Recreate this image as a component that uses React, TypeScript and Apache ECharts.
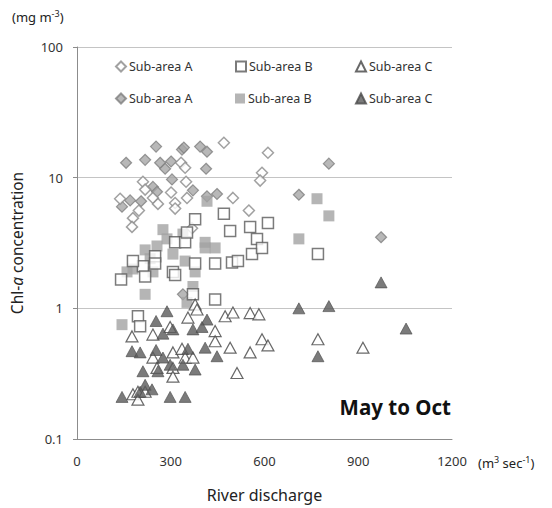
import React, { useEffect, useRef } from "react";
import * as echarts from "echarts";

// [river discharge (m3/s), Chl-a (mg/m3)]
const subAreaAOpen: number[][] = [
  [470, 18.5], [611, 15.5], [592, 10.9], [586, 9.5], [333, 13.0], [349, 9.3], [301, 7.7],
  [352, 7.0], [314, 6.4], [314, 5.8], [499, 7.0], [550, 5.6], [211, 9.3], [218, 8.1],
  [243, 7.0], [259, 6.3], [138, 6.9], [198, 5.6], [179, 4.9], [176, 4.2], [368, 4.1],
  [346, 11.9],
];
const subAreaAFilled: number[][] = [
  [157, 13.0], [218, 13.7], [253, 17.3], [266, 13.0], [282, 11.7], [301, 13.3], [336, 16.4],
  [342, 17.0], [394, 17.3], [416, 15.8], [413, 11.7], [304, 9.7], [371, 8.0], [416, 7.2],
  [448, 7.5], [170, 6.7], [144, 6.0], [205, 6.6], [243, 8.5], [256, 7.8], [806, 12.8],
  [710, 7.4], [973, 3.5], [339, 1.28],
];
const subAreaBOpen: number[][] = [
  [378, 4.8], [470, 5.3], [554, 4.2], [490, 3.9], [576, 3.4], [314, 3.2], [346, 3.2],
  [352, 3.8], [250, 2.5], [211, 2.1], [179, 2.3], [218, 1.75], [250, 2.2], [307, 1.9],
  [314, 1.8], [378, 2.2], [442, 2.2], [496, 2.24], [515, 2.3], [560, 2.6], [371, 1.28],
  [442, 1.17], [195, 0.87], [202, 0.73], [611, 4.5], [592, 2.9], [771, 2.6], [141, 1.66],
];
const subAreaBFilled: number[][] = [
  [275, 4.0], [288, 3.4], [256, 3.0], [218, 2.8], [339, 3.7], [410, 3.2], [410, 2.9],
  [442, 2.9], [307, 2.6], [346, 2.3], [378, 1.9], [243, 1.9], [179, 2.0], [234, 2.4],
  [218, 1.28], [371, 1.47], [352, 1.11], [416, 6.6], [768, 6.9], [806, 5.1], [710, 3.4],
  [144, 0.75], [160, 1.9],
];
const subAreaCOpen: number[][] = [
  [355, 0.85], [378, 1.07], [384, 0.98], [474, 0.87], [499, 0.93], [554, 0.92], [582, 0.9],
  [243, 0.63], [298, 0.72], [442, 0.67], [442, 0.56], [490, 0.5], [554, 0.46], [512, 0.32],
  [176, 0.61], [243, 0.42], [307, 0.46], [336, 0.49], [346, 0.42], [371, 0.42], [256, 0.35],
  [307, 0.35], [307, 0.3], [179, 0.22], [195, 0.23], [195, 0.2], [218, 0.23], [592, 0.58],
  [611, 0.52], [771, 0.58], [915, 0.5],
];
const subAreaCFilled: number[][] = [
  [288, 0.95], [253, 0.8], [416, 0.82], [275, 0.64], [307, 0.69], [371, 0.69], [400, 0.72],
  [176, 0.47], [202, 0.46], [253, 0.48], [275, 0.42], [298, 0.37], [339, 0.37], [355, 0.49],
  [410, 0.5], [448, 0.43], [211, 0.33], [259, 0.33], [378, 0.34], [218, 0.26], [240, 0.24],
  [202, 0.23], [298, 0.21], [346, 0.21], [144, 0.21], [710, 1.0], [806, 1.04], [973, 1.58],
  [1053, 0.7], [771, 0.43],
];

const xTicks = [0, 300, 600, 900, 1200];
const yRange = [0.1, 100];
const legendLabel = "Sub-area";

const FONT = "'Noto Sans', 'Open Sans', sans-serif";

export default function App() {
  const ref = useRef<HTMLDivElement>(null);
  useEffect(() => {
    if (!ref.current) return;
    const chart = echarts.init(ref.current, null, { renderer: "svg", width: 552, height: 508 });

    const seriesDefs = [
      { id: "AF", text: `${legendLabel} A`, data: subAreaAFilled, symbol: "diamond", size: 11,
        style: { color: "#a6a6a6", borderColor: "#808080", borderWidth: 1.2 } },
      { id: "AO", text: `${legendLabel} A`, data: subAreaAOpen, symbol: "diamond", size: 11,
        style: { color: "#ffffff", borderColor: "#8a8a8a", borderWidth: 1.5 } },
      { id: "BF", text: `${legendLabel} B`, data: subAreaBFilled, symbol: "rect", size: 11,
        style: { color: "#a3a3a3", borderWidth: 0 } },
      { id: "BO", text: `${legendLabel} B`, data: subAreaBOpen, symbol: "rect", size: 11,
        style: { color: "#ffffff", borderColor: "#5a5a5a", borderWidth: 1.5 } },
      { id: "CO", text: `${legendLabel} C`, data: subAreaCOpen, symbol: "triangle", size: [12, 11],
        style: { color: "#ffffff", borderColor: "#444444", borderWidth: 1.2 } },
      { id: "CF", text: `${legendLabel} C`, data: subAreaCFilled, symbol: "triangle", size: [12, 11],
        style: { color: "#5a5a5a", borderColor: "#4a4a4a", borderWidth: 0.8 } },
    ];
    const labelOf: Record<string, string> = {};
    seriesDefs.forEach((s) => (labelOf[s.id] = s.text));

    const legendPos: Record<string, [number, number]> = {
      AO: [115, 60], BO: [235, 60], CO: [355, 60],
      AF: [115, 92], BF: [235, 92], CF: [355, 92],
    };

    const legends = Object.keys(legendPos).map((id) => ({
      data: [id],
      left: legendPos[id][0],
      top: legendPos[id][1],
      itemWidth: 10,
      itemHeight: 10,
      itemGap: 4,
      padding: 0,
      selectedMode: false,
      formatter: (name: string) => labelOf[name],
      textStyle: { fontFamily: FONT, fontSize: 12.5, color: "#333", padding: [0, 0, 0, -2] },
    }));

    chart.setOption({
      animation: false,
      textStyle: { fontFamily: FONT },
      grid: { left: 77, top: 47, right: 100, bottom: 69, containLabel: false },
      legend: legends,
      xAxis: {
        type: "value",
        min: xTicks[0],
        max: xTicks[xTicks.length - 1],
        interval: 300,
        axisLine: { show: true, lineStyle: { color: "#8c8c8c", width: 1 } },
        axisTick: { show: false },
        splitLine: { show: false },
        axisLabel: {
          fontFamily: FONT, fontSize: 13, color: "#333", margin: 15,
          formatter: (v: number) => String(v),
        },
        name: "River discharge",
        nameLocation: "middle",
        nameGap: 48,
        nameTextStyle: { fontFamily: FONT, fontSize: 16, color: "#222" },
      },
      yAxis: {
        type: "log",
        logBase: 10,
        min: yRange[0],
        max: yRange[1],
        axisLine: { show: true, lineStyle: { color: "#8c8c8c", width: 1 } },
        axisTick: { show: true, length: 4, lineStyle: { color: "#8c8c8c" } },
        splitLine: { show: true, lineStyle: { color: "#c4c4c4", width: 1 } },
        axisLabel: { fontFamily: FONT, fontSize: 13, color: "#333", margin: 14 },
        name: "{n|Chl-}{i|a}{n| concentration}",
        nameLocation: "middle",
        nameGap: 52,
        nameRotate: 90,
        nameTextStyle: {
          fontFamily: FONT,
          fontSize: 15.5,
          color: "#222",
          rich: {
            n: { fontFamily: FONT, fontSize: 15.5, color: "#222" },
            i: { fontFamily: FONT, fontSize: 15.5, color: "#222", fontStyle: "italic" },
          },
        },
      },
      graphic: [
        {
          type: "text",
          left: 12,
          top: 9,
          style: {
            text: "(mg m{s|-3})",
            fontFamily: FONT,
            fontSize: 13,
            fill: "#222",
            rich: { s: { fontFamily: FONT, fontSize: 9, fill: "#222", padding: [0, 0, 6, 0] } },
          },
        },
        {
          type: "text",
          left: 478,
          top: 455,
          style: {
            text: "(m{s|3} sec{s|-1})",
            fontFamily: FONT,
            fontSize: 13,
            fill: "#222",
            rich: { s: { fontFamily: FONT, fontSize: 9, fill: "#222", padding: [0, 0, 6, 0] } },
          },
        },
        {
          type: "text",
          right: 101,
          top: 396,
          style: {
            text: "May to Oct",
            fontFamily: FONT,
            fontSize: 20.5,
            fontWeight: "bold",
            fill: "#111",
          },
        },
      ],
      series: seriesDefs.map((s) => ({
        id: s.id,
        name: s.id,
        type: "scatter",
        data: s.data,
        symbol: s.symbol,
        symbolSize: s.size,
        itemStyle: s.style,
        emphasis: { disabled: true },
      })),
    });
    return () => chart.dispose();
  }, []);
  return (
    <div
      ref={ref}
      style={{ position: "fixed", left: 0, top: 0, width: 552, height: 508, background: "#fff" }}
    />
  );
}
